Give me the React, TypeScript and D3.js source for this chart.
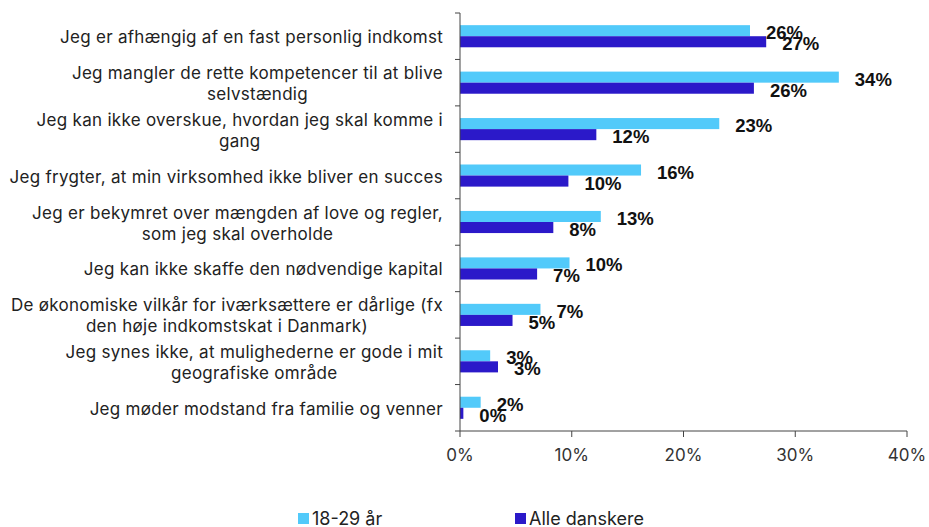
import React, { useMemo } from "react";
import * as d3 from "d3";

const categories: string[][] = [
  ["Jeg er afhængig af en fast personlig indkomst"],
  ["Jeg mangler de rette kompetencer til at blive", "selvstændig"],
  ["Jeg kan ikke overskue, hvordan jeg skal komme i", "gang"],
  ["Jeg frygter, at min virksomhed ikke bliver en succes"],
  ["Jeg er bekymret over mængden af love og regler,", "som jeg skal overholde"],
  ["Jeg kan ikke skaffe den nødvendige kapital"],
  ["De økonomiske vilkår for iværksættere er dårlige (fx", "den høje indkomstskat i Danmark)"],
  ["Jeg synes ikke, at mulighederne er gode i mit", "geografiske område"],
  ["Jeg møder modstand fra familie og venner"],
];

const seriesNames = ["18-29 år", "Alle danskere"];
const young = [25.95, 33.9, 23.2, 16.2, 12.6, 9.8, 7.2, 2.7, 1.85];
const all = [27.4, 26.3, 12.2, 9.7, 8.35, 6.9, 4.7, 3.4, 0.3];
const xTicks = [0, 10, 20, 30, 40];
const colors = ["#52CAFA", "#2B19C9"];

const W = 929;
const H = 527;
const left = 460;
const right = 907;
const top = 13;
const bottom = 431;
const fam = "Inter, Roboto, sans-serif";
const fs = 17;

export default function App() {
  const x = d3.scaleLinear().domain([0, 40]).range([left, right]);
  const idx = d3.range(categories.length);
  const y = d3.scaleBand<number>().domain(idx).range([top, bottom]).padding(0);
  const sub = d3
    .scaleBand<number>()
    .domain([0, 1])
    .range([0, y.step()])
    .paddingInner(0)
    .paddingOuter(1.1);
  const series = [young, all];

  const { widths, ls } = useMemo(() => {
    const c = document.createElement("canvas").getContext("2d")!;
    c.font = `${fs}px ${fam}`;
    const first = categories[0][0];
    const w0 = c.measureText(first).width;
    const spacing = Math.max(0, (383 - w0) / first.length);
    return {
      ls: spacing,
      widths: categories.map((lines) =>
        Math.max(...lines.map((l) => c.measureText(l).width + spacing * l.length))
      ),
    };
  }, []);

  const labelRight = 443;
  const lineH = 21;

  return (
    <svg
      width={W}
      height={H}
      style={{ position: "absolute", left: 0, top: 0, background: "#fff" }}
    >
      {series.map((vals, s) =>
        vals.map((v, i) => (
          <rect
            key={`b${s}-${i}`}
            x={x(0)}
            y={(y(i) as number) + (sub(s) as number)}
            width={x(v) - x(0)}
            height={sub.bandwidth()}
            fill={colors[s]}
          />
        ))
      )}
      {series.map((vals, s) =>
        vals.map((v, i) => (
          <text
            key={`l${s}-${i}`}
            x={x(v) + 16}
            y={(y(i) as number) + (sub(s) as number) + sub.bandwidth() / 2 + 2}
            dominantBaseline="central"
            fontFamily="'Liberation Sans', Arial, sans-serif"
            fontWeight="bold"
            fontSize={18.5}
            fill="#111"
          >
            {`${Math.round(v)}%`}
          </text>
        ))
      )}
      <line x1={left} x2={left} y1={top} y2={bottom} stroke="#444" strokeWidth={1} />
      {d3.range(categories.length + 1).map((k) => {
        const yy = top + k * y.step();
        return <line key={`yt${k}`} x1={left - 5} x2={left} y1={yy} y2={yy} stroke="#444" />;
      })}
      <line x1={left} x2={right} y1={bottom} y2={bottom} stroke="#444" />
      {xTicks.map((t) => (
        <g key={`xt${t}`}>
          <line x1={x(t)} x2={x(t)} y1={bottom} y2={bottom + 6} stroke="#444" />
          <text
            x={x(t)}
            y={bottom + 24}
            dominantBaseline="central"
            textAnchor="middle"
            fontFamily={fam}
            fontSize={fs}
            fill="#333"
          >
            {`${t}%`}
          </text>
        </g>
      ))}
      {categories.map((lines, i) => {
        const cx = labelRight - widths[i] / 2;
        const cy = (y(i) as number) + y.step() / 2 + 1;
        const start = cy - ((lines.length - 1) * lineH) / 2;
        return (
          <text
            key={`c${i}`}
            textAnchor="middle"
            fontFamily={fam}
            fontSize={fs}
            letterSpacing={ls}
            fill="#222"
          >
            {lines.map((l, j) => (
              <tspan key={j} x={cx} y={start + j * lineH} dominantBaseline="central">
                {l}
              </tspan>
            ))}
          </text>
        );
      })}
      {seriesNames.map((n, s) => {
        const lx = s === 0 ? 298 : 515;
        return (
          <g key={`lg${s}`}>
            <rect x={lx} y={513} width={11} height={11} fill={colors[s]} />
            <text
              x={lx + 14}
              y={518}
              dominantBaseline="central"
              fontFamily={fam}
              fontSize={fs + 1}
              fill="#222"
            >
              {n}
            </text>
          </g>
        );
      })}
    </svg>
  );
}
